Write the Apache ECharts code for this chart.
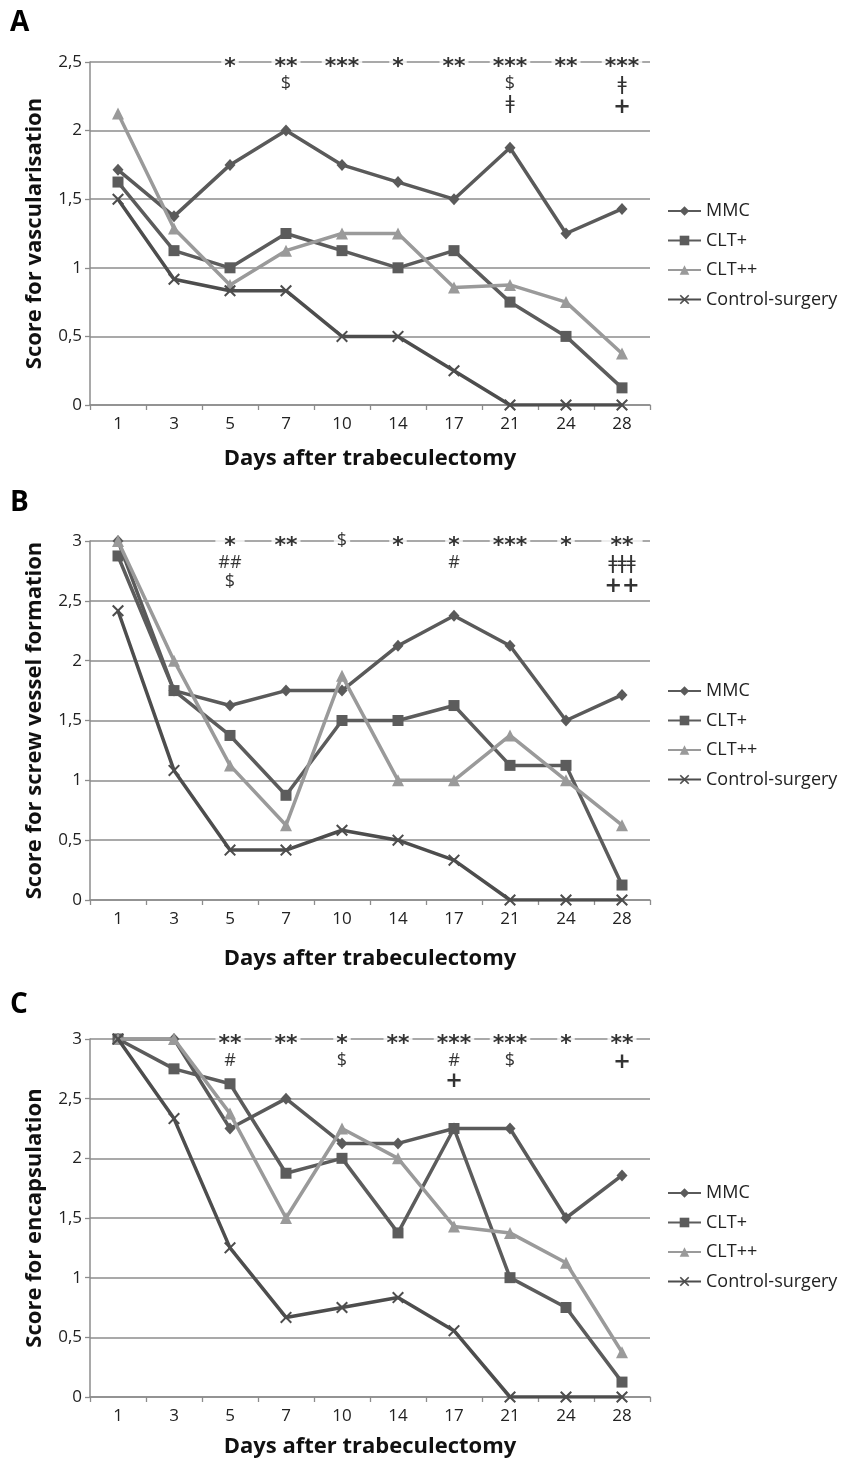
<!DOCTYPE html>
<html><head><meta charset="utf-8">
<script src="https://cdn.jsdelivr.net/npm/echarts@6/dist/echarts.min.js"></script>
<style>html,body{margin:0;padding:0;background:#fff}#c{width:843px;height:1459px}</style>
</head><body><div id="c"></div>
<script>
// ---------- data ----------
const days = ['1','3','5','7','10','14','17','21','24','28'];
const names = ['MMC','CLT+','CLT++','Control-surgery'];

// Panel A: Score for vascularisation
const vascMMC   = [1.714,1.375,1.75,2.0,1.75,1.625,1.5,1.875,1.25,1.429];
const vascCLTp  = [1.625,1.125,1.0,1.25,1.125,1.0,1.125,0.75,0.5,0.125];
const vascCLTpp = [2.125,1.286,0.875,1.125,1.25,1.25,0.857,0.875,0.75,0.375];
const vascCtrl  = [1.5,0.917,0.833,0.833,0.5,0.5,0.25,0,0,0];
const vascAnn   = [[],[],['*'],['**','$'],['***'],['*'],['**'],['***','$','ǂ'],['**'],['***','ǂ','+']];

// Panel B: Score for screw vessel formation
const screwMMC   = [3.0,1.75,1.625,1.75,1.75,2.125,2.375,2.125,1.5,1.714];
const screwCLTp  = [2.875,1.75,1.375,0.875,1.5,1.5,1.625,1.125,1.125,0.125];
const screwCLTpp = [3.0,2.0,1.125,0.625,1.875,1.0,1.0,1.375,1.0,0.625];
const screwCtrl  = [2.417,1.083,0.417,0.417,0.583,0.5,0.333,0,0,0];
const screwAnn   = [[],[],['*','##','$'],['**'],['$'],['*'],['*','#'],['***'],['*'],['**','ǂǂǂ','++']];

// Panel C: Score for encapsulation
const encMMC   = [3.0,3.0,2.25,2.5,2.125,2.125,2.25,2.25,1.5,1.857];
const encCLTp  = [3.0,2.75,2.625,1.875,2.0,1.375,2.25,1.0,0.75,0.125];
const encCLTpp = [3.0,3.0,2.375,1.5,2.25,2.0,1.429,1.375,1.125,0.375];
const encCtrl  = [3.0,2.333,1.25,0.667,0.75,0.833,0.556,0,0,0];
const encAnn   = [[],[],['**','#'],['**'],['*','$'],['**'],['***','#','+'],['***','$'],['*'],['**','+']];

const yMaxes = [2.5, 3, 3];
const yTitles = ['Score for vascularisation','Score for screw vessel formation','Score for encapsulation'];
const xTitle = 'Days after trabeculectomy';
const panelLetters = ['A','B','C'];

// ---------- layout / style ----------
const FONT = 'Open Sans';
const grids = [
  {left:90, width:560, top:62, height:343, nameGap:43, legTop:197, letterY:25},
  {left:90, width:560, top:541, height:359, nameGap:48, legTop:677, letterY:505},
  {left:90, width:560, top:1039, height:360, nameGap:39, legTop:1179, letterY:1007}
];
const colors = ['#5a5a5a','#5c5c5c','#9a9a9a','#4d4d4d'];
const xPath = 'path://M0,1.2 L1.2,0 L5,3.8 L8.8,0 L10,1.2 L6.2,5 L10,8.8 L8.8,10 L5,6.2 L1.2,10 L0,8.8 L3.8,5 Z';
const symbols = ['diamond','rect', 'triangle', xPath];
const symbolSizes = [[11,12],11,12,12];
const GRIDCOL = '#8c8c8c';

const panelData = [
  [vascMMC,vascCLTp,vascCLTpp,vascCtrl],
  [screwMMC,screwCLTp,screwCLTpp,screwCtrl],
  [encMMC,encCLTp,encCLTpp,encCtrl]
];
const panelAnn = [vascAnn, screwAnn, encAnn];

const option = {
  animation:false,
  backgroundColor:'#fff',
  textStyle:{fontFamily:FONT},
  grid:[], xAxis:[], yAxis:[], series:[], legend:[], graphic:[]
};

function rowStyle(r){
  if (r.indexOf('*')>=0) return 's';
  if (r.indexOf('+')>=0) return 'p';
  if (r.indexOf('ǂ')>=0) return 'd';
  return 'r';
}

grids.forEach((g,i)=>{
  option.grid.push({left:g.left, width:g.width, top:g.top, height:g.height, containLabel:false});
  option.xAxis.push({
    type:'category', gridIndex:i, data:days, boundaryGap:true,
    name:xTitle, nameLocation:'middle', nameGap:g.nameGap,
    nameTextStyle:{fontFamily:FONT, fontWeight:'bold', fontSize:22, color:'#111'},
    axisLine:{lineStyle:{color:GRIDCOL, width:1.5}},
    axisTick:{show:true, length:5, lineStyle:{color:GRIDCOL, width:1.3}},
    axisLabel:{fontFamily:FONT, fontSize:17, color:'#222', margin:11}
  });
  option.yAxis.push({
    type:'value', gridIndex:i, min:0, max:yMaxes[i], interval:0.5,
    name:yTitles[i], nameLocation:'middle', nameGap:44,
    nameTextStyle:{fontFamily:FONT, fontWeight:'bold', fontSize:22, color:'#111'},
    axisLine:{show:true, lineStyle:{color:GRIDCOL, width:1.5}},
    axisTick:{show:true, length:5, lineStyle:{color:GRIDCOL, width:1.3}},
    axisLabel:{fontFamily:FONT, fontSize:17, color:'#222', margin:8,
      formatter:v=>String(v).replace('.',',')},
    splitLine:{show:true, lineStyle:{color:GRIDCOL, width:1.5}}
  });
  panelData[i].forEach((arr,k)=>{
    option.series.push({
      type:'line', name:names[k], xAxisIndex:i, yAxisIndex:i, data:arr,
      symbol:symbols[k], symbolSize:symbolSizes[k], showSymbol:true,
      lineStyle:{color:colors[k], width:3.5},
      itemStyle:{color:colors[k]},
      z:2+k
    });
  });
  // significance annotations placed on the top gridline
  const annData = [];
  panelAnn[i].forEach((rows,ci)=>{ if(rows.length) annData.push({value:[ci, yMaxes[i]], rows:rows}); });
  option.series.push({
    type:'scatter', xAxisIndex:i, yAxisIndex:i, symbolSize:0, silent:true, z:10,
    data:annData,
    label:{
      show:true, position:[0,0], align:'center', verticalAlign:'top', offset:[0,-10],
      backgroundColor:'#fff', padding:[0,3],
      formatter:p=>p.data.rows.map(r=>'{'+rowStyle(r)+'|'+r+'}').join('\n'),
      rich:{
        s:{fontFamily:'DejaVu Sans', fontWeight:'bold', fontSize:22, lineHeight:22, color:'#000', padding:[8,0,0,0]},
        r:{fontFamily:FONT, fontSize:18, lineHeight:19, color:'#000'},
        d:{fontFamily:'DejaVu Sans', fontSize:20, lineHeight:22, color:'#000'},
        p:{fontFamily:'DejaVu Sans', fontWeight:'bold', fontSize:21, lineHeight:24, color:'#000'}
      }
    }
  });
  option.legend.push({
    data:names, orient:'vertical', left:662, top:g.legTop,
    itemWidth:33, itemHeight:12, itemGap:11.5,
    textStyle:{fontFamily:FONT, fontSize:18, color:'#222'},
    selectedMode:false
  });
  option.graphic.push({
    type:'text', left:10, top:g.letterY-16,
    style:{text:panelLetters[i], fontFamily:FONT, fontWeight:'bold', fontSize:28, fill:'#000'}
  });
});

const chart = echarts.init(document.getElementById('c'), null, {renderer:'canvas'});
chart.setOption(option);
</script>
</body></html>
